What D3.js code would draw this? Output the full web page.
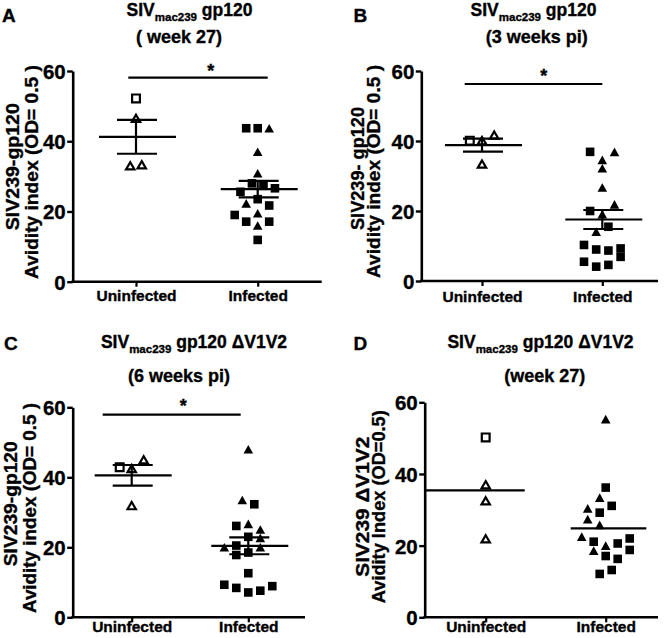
<!DOCTYPE html>
<html><head><meta charset="utf-8">
<script src="https://cdn.jsdelivr.net/npm/d3@7"></script>
<style>
body{margin:0;background:#fff}
svg{display:block}
text{font-family:"Liberation Sans",Arial,sans-serif;font-weight:bold;fill:#000;stroke:#000;stroke-width:0.35px}
</style>
</head><body>
<svg id="chart" width="666" height="638"></svg>
<script>
// ---------- data ----------
const categories = ["Uninfected", "Infected"];
const yTickValues = [0, 20, 40, 60];
const panelLetters = ["A", "B", "C", "D"];
const titleSubscript = "mac239";
const titleSuffix = [" gp120", " gp120", " gp120 \u0394V1V2", " gp120 \u0394V1V2"];
const titleSecondLine = ["( week 27)", "(3 weeks pi)", "(6 weeks pi)", "(week 27)"];
const yLabelFirstLine = ["SIV239-gp120", "SIV239- gp120", "SIV239-gp120", "SIV239 \u0394V1V2"];
const yLabelSecondLine = ["Avidity index (OD= 0.5 )", "Avidity index (OD= 0.5 )", "Avidity index (OD= 0.5 )", "Avidity Index (OD=0.5)"];
const significanceMark = ["*", "*", "*", null];
const showSem = [true, true, true, false];

// Panel A: SIVmac239 gp120 (week 27)
const aUninfectedValues  = [52.2, 46.5, 33.0, 33.3];
const aUninfectedMarkers = ["square", "triangle", "triangle", "triangle"];
const aInfectedValues  = [43.7, 43.7, 43.7, 37.0, 30.9, 25.6, 28.0, 27.3, 26.6, 22.3, 23.5, 21.7, 19.0, 17.1, 19.5, 17.1, 16.0, 11.9];
const aInfectedMarkers = ["square","square","triangle","triangle","triangle","square","square","square","square","triangle","square","square","square","square","triangle","square","triangle","square"];

// Panel B: SIVmac239 gp120 (3 weeks pi)
const bUninfectedValues  = [40.1, 40.1, 41.7, 33.4];
const bUninfectedMarkers = ["square", "triangle", "triangle", "triangle"];
const bInfectedValues  = [36.9, 34.6, 36.9, 32.2, 26.7, 20.0, 19.1, 21.9, 14.1, 15.5, 10.3, 9.0, 8.7, 9.3, 5.5, 4.1, 4.6, 6.9];
const bInfectedMarkers = ["square","triangle","triangle","triangle","triangle","square","triangle","triangle","triangle","square","square","square","square","square","square","square","square","square"];

// Panel C: SIVmac239 gp120 dV1V2 (6 weeks pi)
const cUninfectedValues  = [42.9, 42.5, 45.0, 31.9];
const cUninfectedMarkers = ["square", "triangle", "triangle", "triangle"];
const cInfectedValues  = [48.0, 33.5, 32.3, 26.1, 26.7, 25.1, 20.5, 23.0, 22.7, 20.0, 17.8, 18.5, 20.0, 12.6, 9.3, 8.4, 7.1, 7.6, 8.9];
const cInfectedMarkers = ["triangle","triangle","square","square","triangle","triangle","square","square","triangle","triangle","square","square","triangle","square","square","square","square","square","square"];

// Panel D: SIVmac239 gp120 dV1V2 (week 27)
const dUninfectedValues  = [50.2, 37.0, 32.5, 21.9];
const dUninfectedMarkers = ["square", "triangle", "triangle", "triangle"];
const dInfectedValues  = [55.3, 36.2, 33.4, 31.1, 30.4, 29.2, 27.4, 25.8, 22.5, 21.1, 20.0, 20.6, 22.0, 18.6, 17.1, 16.3, 18.8, 12.1, 13.2];
const dInfectedMarkers = ["triangle","square","triangle","square","triangle","square","triangle","triangle","triangle","square","triangle","square","square","triangle","square","square","square","square","square"];

const panelData = [
  [[aUninfectedValues, aUninfectedMarkers], [aInfectedValues, aInfectedMarkers]],
  [[bUninfectedValues, bUninfectedMarkers], [bInfectedValues, bInfectedMarkers]],
  [[cUninfectedValues, cUninfectedMarkers], [cInfectedValues, cInfectedMarkers]],
  [[dUninfectedValues, dUninfectedMarkers], [dInfectedValues, dInfectedMarkers]]
];

// ---------- layout ----------
const layouts = [
  {left:72.7, right:321.7, cx:[136,257.7], y0:281.7, y60:71, step:11.5,
   letter:[2,21.7], t1:[189.5,16], t2:[179,42.5],
   yl:[[19,166.7,127],[37.5,172,214]], catBase:301.5,
   sig:{y:77.7,x1:128.3,x2:267.7,sx:210.7,sy:66.7}},
  {left:421.3, right:658, cx:[482,602.3], y0:281, y60:71, step:12.2,
   letter:[353.5,21.7], t1:[533.5,16], t2:[536.8,42.5],
   yl:[[363.5,168.5,123],[380,171.5,213]], catBase:301.5,
   sig:{y:84,x1:464.7,x2:602.3,sx:543.7,sy:71}},
  {left:72.7, right:305, cx:[131.7,248.3], y0:617.3, y60:407.3, step:12,
   letter:[4,349.7], t1:[194,348], t2:[179,381.5],
   yl:[[16.5,503.8,125],[35.5,508,210]], catBase:632,
   sig:{y:414.7,x1:102.7,x2:240.7,sx:183.3,sy:401.5}},
  {left:424.7, right:658, cx:[485.7,605.7], y0:617.3, y60:402.3, step:12,
   letter:[353.5,349.7], t1:[540.5,348], t2:[544.7,381.5],
   yl:[[369,506.7,140],[385,506.7,193]], catBase:632,
   sig:null, meanExt:[[-61,39],[-35,40.6]]}
];

const svg = d3.select("#chart");

function swarm(values, markers, y, rowThresh, sy) {
  const pts = values.map((v, i) => ({v, marker: markers[i], i, py: y(v), off: 0}));
  const sorted = pts.slice().sort((a, b) => a.py - b.py || a.i - b.i);
  const rows = [];
  for (const p of sorted) {
    const r = rows[rows.length - 1];
    if (r && p.py - r[0].py < rowThresh) r.push(p); else rows.push([p]);
  }
  const placed = [];
  const shifts = [0, -0.5, 0.5, -1, 1, -1.5, 1.5, -2, 2];
  for (const r of rows) {
    r.sort((a, b) => a.i - b.i);
    const n = r.length;
    let best = null;
    outer: for (const gap of [1, 2]) for (const s of shifts) {
      const pos = r.map((_, k) => (k - (n - 1) / 2) * gap + s);
      const ok = r.every((p, k) => placed.every(q => !(Math.abs(q.off - pos[k]) < 0.99 && Math.abs(q.py - p.py) < sy)));
      if (ok) { best = pos; break outer; }
    }
    if (!best) best = r.map((_, k) => k - (n - 1) / 2);
    r.forEach((p, k) => { p.off = best[k]; placed.push(p); });
  }
  return pts;
}

function markerPath(type, open) {
  if (type === "square") {
    const s = open ? 7.8 : 8.6;
    return `M${-s/2},${-s/2}h${s}v${s}h${-s}Z`;
  }
  const w = open ? 8.4 : 9.6, h = open ? 7.2 : 8.6;
  return `M0,${-h/2}L${w/2},${h/2}L${-w/2},${h/2}Z`;
}

panelData.forEach((groups, pi) => {
  const L = layouts[pi];
  const g = svg.append("g");
  const y = d3.scaleLinear().domain([0, 60]).range([L.y0, L.y60]);
  const x = d3.scalePoint().domain(categories).range(L.cx);

  // y axis
  const yAxis = d3.axisLeft(y).tickValues(yTickValues).tickSize(5.5).tickSizeOuter(0).tickPadding(1.5);
  const ya = g.append("g").attr("transform", `translate(${L.left},0)`).call(yAxis);
  ya.select(".domain").attr("stroke", "#000").attr("stroke-width", 2.6);
  ya.selectAll(".tick line").attr("stroke", "#000").attr("stroke-width", 2.4);
  ya.selectAll(".tick text").attr("font-size", 20.5).attr("dy", "0.36em");

  // x axis
  g.append("line").attr("x1", L.left - 1.3).attr("x2", L.right).attr("y1", L.y0).attr("y2", L.y0)
    .attr("stroke", "#000").attr("stroke-width", 2.6);
  const xAxis = d3.axisBottom(x).tickSize(5).tickSizeOuter(0);
  const xa = g.append("g").attr("transform", `translate(0,${L.y0})`).call(xAxis);
  xa.select(".domain").remove();
  xa.selectAll(".tick line").attr("stroke", "#000").attr("stroke-width", 2.2);
  xa.selectAll(".tick text").attr("font-size", 15.5).attr("dy", 0).attr("y", L.catBase - L.y0);

  // points + mean/SEM
  groups.forEach(([vals, marks], gi) => {
    const cat = categories[gi];
    const cx = x(cat);
    const open = gi === 0;
    const pts = swarm(vals, marks, y, 10, 8);
    g.append("g").selectAll("path").data(pts).join("path")
      .attr("d", d => markerPath(d.marker, open))
      .attr("transform", d => `translate(${cx + d.off * L.step},${d.py})`)
      .attr("fill", open ? "#fff" : "#000")
      .attr("stroke", open ? "#000" : "none")
      .attr("stroke-width", open ? 2.2 : 0);

    const mean = d3.mean(vals);
    const ext = L.meanExt ? L.meanExt[gi] : [-37, 40];
    g.append("line").attr("x1", cx + ext[0]).attr("x2", cx + ext[1])
      .attr("y1", y(mean)).attr("y2", y(mean)).attr("stroke", "#000").attr("stroke-width", 2.2);
    if (showSem[pi]) {
      const sem = d3.deviation(vals) / Math.sqrt(vals.length);
      [mean - sem, mean + sem].forEach(v => {
        g.append("line").attr("x1", cx - 19).attr("x2", cx + 21)
          .attr("y1", y(v)).attr("y2", y(v)).attr("stroke", "#000").attr("stroke-width", 2.2);
      });
      g.append("line").attr("x1", cx).attr("x2", cx).attr("y1", y(mean - sem)).attr("y2", y(mean + sem))
        .attr("stroke", "#000").attr("stroke-width", 2.2);
    }
  });

  // significance
  if (significanceMark[pi] && L.sig) {
    g.append("line").attr("x1", L.sig.x1).attr("x2", L.sig.x2).attr("y1", L.sig.y).attr("y2", L.sig.y)
      .attr("stroke", "#000").attr("stroke-width", 2.2);
    g.append("text").attr("x", L.sig.sx).attr("y", L.sig.sy + 10.5).attr("text-anchor", "middle")
      .attr("font-size", 18).text(significanceMark[pi]);
  }

  // panel letter
  g.append("text").attr("x", L.letter[0]).attr("y", L.letter[1]).attr("font-size", 19).text(panelLetters[pi]);

  // title
  const t1 = g.append("text").attr("x", L.t1[0]).attr("y", L.t1[1]).attr("text-anchor", "middle").attr("font-size", 17.5);
  t1.append("tspan").text("SIV");
  t1.append("tspan").attr("font-size", 11.5).attr("dy", 4.5).text(titleSubscript);
  t1.append("tspan").attr("dy", -4.5).text(titleSuffix[pi]);
  g.append("text").attr("x", L.t2[0]).attr("y", L.t2[1]).attr("text-anchor", "middle").attr("font-size", 18)
    .text(titleSecondLine[pi]);

  // y labels
  [yLabelFirstLine[pi], yLabelSecondLine[pi]].forEach((txt, li) => {
    const [bx, cy, len] = L.yl[li];
    g.append("text").attr("transform", `translate(${bx},${cy}) rotate(-90)`)
      .attr("text-anchor", "middle").attr("font-size", 17.5)
      .attr("textLength", len).attr("lengthAdjust", "spacingAndGlyphs").text(txt);
  });
});
</script>
</body></html>
